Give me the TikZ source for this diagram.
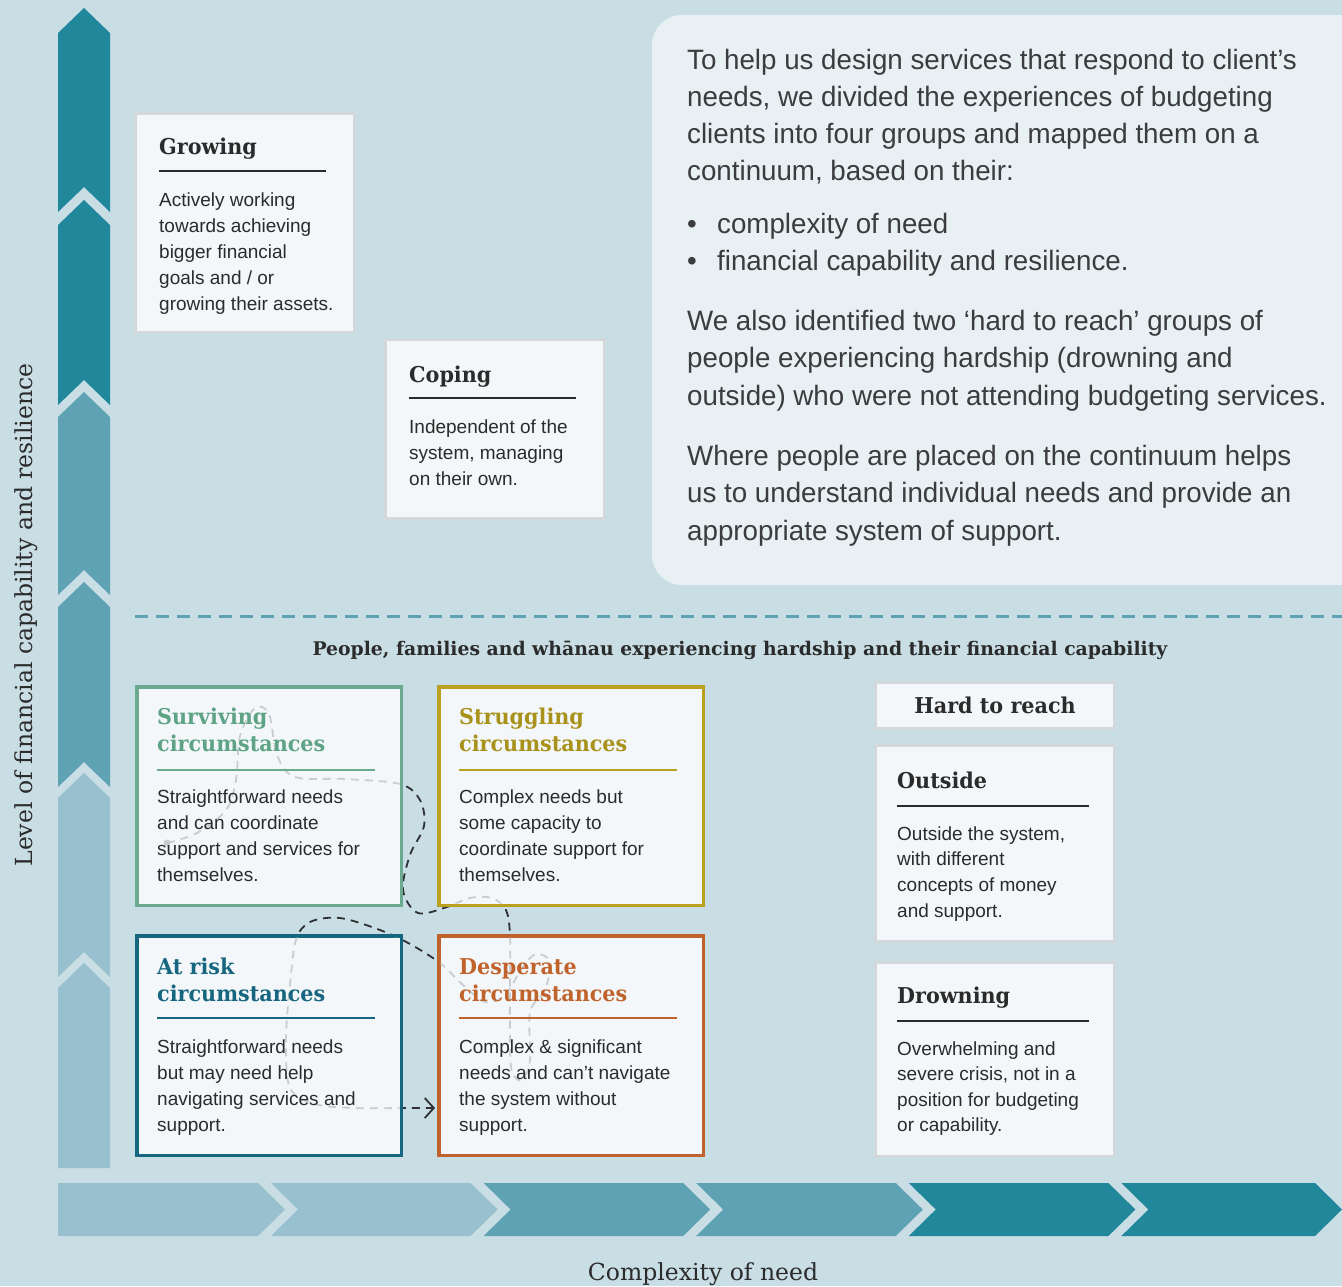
\documentclass[tikz,border=0pt]{standalone}
\usepackage{fontspec}
\setmainfont{Liberation Sans}
\newfontfamily\slab{DejaVu Serif}
\newfontfamily\slabnarrow[FakeStretch=0.95]{DejaVu Serif}
\newfontfamily\leadsans[FakeStretch=0.99]{Liberation Sans}
\usetikzlibrary{arrows.meta}

\definecolor{bg}{HTML}{C9DDE5}
\definecolor{panel}{HTML}{E8F0F3}
\definecolor{boxwhite}{HTML}{F3F7F9}
\definecolor{boxgrey}{HTML}{D3D8DB}
\definecolor{ink}{HTML}{2B2B2B}
\definecolor{leadink}{HTML}{3A3C3E}
\definecolor{chevdark}{HTML}{21879B}
\definecolor{chevmid}{HTML}{5FA2B4}
\definecolor{chevlight}{HTML}{98C0CE}
\definecolor{survgreen}{HTML}{6BAA8F}
\definecolor{survtitle}{HTML}{5EA385}
\definecolor{strugold}{HTML}{B9A01E}
\definecolor{strutitle}{HTML}{A8921C}
\definecolor{risktea}{HTML}{16667F}
\definecolor{despor}{HTML}{C0622B}
\definecolor{pathdark}{HTML}{2E3033}
\definecolor{pathlight}{HTML}{C8CDD1}
\definecolor{sepline}{HTML}{5FA2B4}

\newcommand\bodyfont{\fontsize{19}{22}\selectfont}
\newcommand\titlefont{\slabnarrow\bfseries\fontsize{21.8}{26}\selectfont}
\newcommand\leadfont{\leadsans\fontsize{28}{32}\selectfont}

% the winding route through the four circumstance boxes
\newcommand\flowcurve{plot[smooth,tension=0.55] coordinates {
  (167,843) (197,833) (226,810) (236,780) (240,736) (255,708) (269,714)
  (277,755) (295,777) (345,779) (400,784) (420,800) (424,826) (410,855)
  (403,890) (418,913) (447,907) (470,898) (492,898) (506,910) (510,935)
  (510,980) (510,1040) (512,1072) (522,1080) (530,1060) (530,1012)
  (545,990) (550,962) (536,954) (522,968) (505,995) (485,1002) (462,984)
  (440,963) (410,944) (380,930) (340,918) (310,922) (296,940) (290,985)
  (286,1040) (290,1088) (315,1104) (355,1108) (403,1108) (arrowend)}}

\tikzset{
  plainbox/.style={draw=boxgrey, line width=3pt, fill=boxwhite, inner sep=0pt, outer sep=0pt, anchor=north west},
  catbox/.style={line width=3.5pt, fill=boxwhite, inner sep=0pt, outer sep=0pt, anchor=north west,
    minimum width=264.5pt},
  body/.style={anchor=base west, inner sep=0pt, font=\bodyfont, text=ink},
  ttl/.style={anchor=base west, inner sep=0pt, font=\titlefont},
  lead/.style={anchor=base west, inner sep=0pt, font=\leadfont, text=leadink},
  rulebar/.style={line width=1.3pt},
  axislabel/.style={inner sep=0pt, font=\slab\fontsize{23.5}{28}\selectfont, text=ink},
}

\begin{document}
\begin{tikzpicture}[x=1pt,y=-1pt]
\fill[bg] (0,0) rectangle (1342,1286);
\useasboundingbox (0,0) rectangle (1342,1286);

% vertical capability arrow, built from chevron segments
\foreach \yt/\yb/\c in {8/187/chevdark, 200/380/chevdark, 392/570/chevmid, 582/762/chevmid, 773/952/chevlight}
  \fill[\c] (58,\yt+25) -- (84,\yt) -- (110,\yt+25) -- (110,\yb+25) -- (84,\yb) -- (58,\yb+25) -- cycle;
\fill[chevlight] (58,988) -- (84,963) -- (110,988) -- (110,1168) -- (58,1168) -- cycle;

% horizontal complexity arrow
\fill[chevlight] (58,1183) -- (258,1183) -- (285,1209.5) -- (258,1236) -- (58,1236) -- cycle;
\foreach \a/\b/\c in {285/497.6/chevlight, 497.6/710.2/chevmid, 710.2/922.8/chevmid, 922.8/1135.4/chevdark, 1135.4/1342/chevdark}
  \fill[\c] (\a-14,1183) -- (\b-27,1183) -- (\b,1209.5) -- (\b-27,1236) -- (\a-14,1236) -- (\a+13,1209.5) -- cycle;

% axis labels
\node[axislabel, rotate=90, anchor=base] (ylab) at (32,615) {Level of financial capability and resilience};
\node[axislabel, anchor=base] (xlab) at (703,1280) {Complexity of need};

% introductory panel
\fill[panel, rounded corners=30pt] (652,15) rectangle (1372,585);
\foreach \t [count=\i from 0] in {{To help us design services that respond to client’s},
    {needs, we divided the experiences of budgeting},
    {clients into four groups and mapped them on a},
    {continuum, based on their:}}
  \node[lead] (introA\i) at (687,{69+37.3*\i}) {\t};
\node[lead] (bulA) at (687,233) {•};
\node[lead] (bulAt) at (717,233) {complexity of need};
\node[lead] (bulB) at (687,270) {•};
\node[lead] (bulBt) at (717,270) {financial capability and resilience.};
\foreach \t [count=\i from 0] in {{We also identified two ‘hard to reach’ groups of},
    {people experiencing hardship (drowning and},
    {outside) who were not attending budgeting services.}}
  \node[lead] (introB\i) at (687,{330+37.5*\i}) {\t};
\foreach \t [count=\i from 0] in {{Where people are placed on the continuum helps},
    {us to understand individual needs and provide an},
    {appropriate system of support.}}
  \node[lead] (introC\i) at (687,{465+37.5*\i}) {\t};

% separator and caption
\draw[sepline, line width=3pt, dash pattern=on 13pt off 8pt] (135,616) -- (1342,616);
\node[anchor=base, inner sep=0pt, font=\slab\bfseries\fontsize{18.8}{22}\selectfont, text=ink] (caption) at (740,655)
  {People, families and whānau experiencing hardship and their financial capability};

% upper boxes
\node[plainbox, minimum width=219pt, minimum height=219pt] (grow) at (135.5,113.5) {};
\node[ttl, text=ink] (growT) at (159,154) {Growing};
\draw[rulebar, ink] (159,171) -- (326,171);
\foreach \t [count=\i from 0] in {Actively working, towards achieving, bigger financial, {goals and / or}, growing their assets.}
  \node[body] (grow\i) at (159,{206+26*\i}) {\t};

\node[plainbox, minimum width=219pt, minimum height=179pt] (cope) at (385.5,339.5) {};
\node[ttl, text=ink] (copeT) at (409,382) {Coping};
\draw[rulebar, ink] (409,398) -- (576,398);
\foreach \t [count=\i from 0] in {Independent of the, {system, managing}, on their own.}
  \node[body] (cope\i) at (409,{433+26*\i}) {\t};

% the route, dark where it runs between boxes
\coordinate (arrowend) at (435,1108);
\draw[pathdark, line width=1.8pt, dash pattern=on 8pt off 6pt, -{Straight Barb[length=9pt,width=20pt,line width=1.8pt]}] \flowcurve;

% circumstance boxes
\node[catbox, draw=survgreen, minimum height=218.5pt] (surv) at (136.75,686.75) {};
\node[catbox, draw=strugold, minimum height=218.5pt] (strug) at (438.75,686.75) {};
\node[catbox, draw=risktea, minimum height=219.5pt] (risk) at (136.75,935.75) {};
\node[catbox, draw=despor, minimum height=219.5pt] (desp) at (438.75,935.75) {};

% the route, faint where it runs behind the boxes
\begin{scope}
  \clip (138.5,688.5) rectangle (399.5,903.5) (440.5,688.5) rectangle (701.5,903.5)
        (138.5,937.5) rectangle (399.5,1153.5) (440.5,937.5) rectangle (701.5,1153.5);
  \draw[pathlight, line width=1.8pt, dash pattern=on 8pt off 6pt] \flowcurve;
  \fill[pathlight] (167,843) circle (3.5pt);
\end{scope}

\node[ttl, text=survtitle] (survT1) at (157,724) {Surviving};
\node[ttl, text=survtitle] (survT2) at (157,751) {circumstances};
\draw[rulebar, survgreen] (157,770) -- (375,770);
\foreach \t [count=\i from 0] in {Straightforward needs, and can coordinate, support and services for, themselves.}
  \node[body] (surv\i) at (157,{803+26*\i}) {\t};

\node[ttl, text=strutitle] (strugT1) at (459,724) {Struggling};
\node[ttl, text=strutitle] (strugT2) at (459,751) {circumstances};
\draw[rulebar, strugold] (459,770) -- (677,770);
\foreach \t [count=\i from 0] in {Complex needs but, some capacity to, coordinate support for, themselves.}
  \node[body] (strug\i) at (459,{803+26*\i}) {\t};

\node[ttl, text=risktea] (riskT1) at (157,974) {At risk};
\node[ttl, text=risktea] (riskT2) at (157,1001) {circumstances};
\draw[rulebar, risktea] (157,1018) -- (375,1018);
\foreach \t [count=\i from 0] in {Straightforward needs, but may need help, navigating services and, support.}
  \node[body] (risk\i) at (157,{1053+26*\i}) {\t};

\node[ttl, text=despor] (despT1) at (459,974) {Desperate};
\node[ttl, text=despor] (despT2) at (459,1001) {circumstances};
\draw[rulebar, despor] (459,1018) -- (677,1018);
\foreach \t [count=\i from 0] in {Complex \& significant, needs and can’t navigate, the system without, support.}
  \node[body] (desp\i) at (459,{1053+26*\i}) {\t};

% hard to reach groups
\node[plainbox, minimum width=239pt, minimum height=46pt] (hard) at (875.5,682.5) {};
\node[anchor=base, inner sep=0pt, font=\titlefont, text=ink] (hardT) at (995,713) {Hard to reach};

\node[plainbox, minimum width=239pt, minimum height=196pt] (outs) at (875.5,745.5) {};
\node[ttl, text=ink] (outsT) at (897,788) {Outside};
\draw[rulebar, ink] (897,806) -- (1089,806);
\foreach \t [count=\i from 0] in {{Outside the system,}, with different, concepts of money, and support.}
  \node[body] (outs\i) at (897,{840+25.7*\i}) {\t};

\node[plainbox, minimum width=239pt, minimum height=194pt] (drown) at (875.5,962.5) {};
\node[ttl, text=ink] (drownT) at (897,1003) {Drowning};
\draw[rulebar, ink] (897,1021) -- (1089,1021);
\foreach \t [count=\i from 0] in {Overwhelming and, {severe crisis, not in a}, position for budgeting, or capability.}
  \node[body] (drown\i) at (897,{1055+25.5*\i}) {\t};
\end{tikzpicture}
\end{document}
